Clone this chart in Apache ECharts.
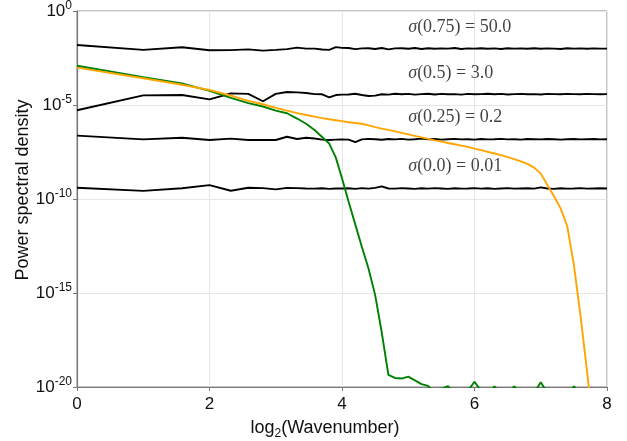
<!DOCTYPE html>
<html>
<head>
<meta charset="utf-8">
<script src="https://cdn.jsdelivr.net/npm/echarts@6/dist/echarts.min.js"></script>
<style>
  html, body { margin: 0; padding: 0; background: #fff; }
  #chart { width: 627px; height: 441px; }
</style>
</head>
<body>
<div id="chart"></div>
<script>
// x values: log2(wavenumber)
const log2k = [0, 1, 1.585, 2, 2.322, 2.585, 2.807, 3, 3.17, 3.322, 3.459, 3.585, 3.7, 3.807, 3.907, 4,
  4.1, 4.2, 4.3, 4.4, 4.5, 4.6, 4.7, 4.8, 4.9, 5.0,
  5.1, 5.2, 5.3, 5.4, 5.5, 5.6, 5.7, 5.8, 5.9, 6.0,
  6.1, 6.2, 6.3, 6.4, 6.5, 6.6, 6.7, 6.8, 6.9, 7.0,
  7.1, 7.2, 7.3, 7.4, 7.5, 7.6, 7.7, 7.8, 7.9, 8.0];

// spectra, stored as log10(power)
const sigma075 = [-1.81, -2.07, -1.93, -2.09, -2.08, -2.04, -2.11, -2.07, -2.03, -1.95, -2.00, -2.00, -2.05, -2.07, -1.92, -1.96,
  -1.97, -2.03, -1.99, -1.98, -2.02, -1.97, -2.04, -1.99, -1.98, -2.01,
  -1.97, -2.02, -1.98, -2.01, -1.99, -2.00, -1.97, -2.02, -1.99, -2.00,
  -1.98, -2.01, -1.99, -2.02, -1.98, -2.00, -1.99, -2.01, -1.98, -2.01,
  -1.99, -2.00, -2.02, -1.98, -2.00, -1.99, -2.01, -1.99, -2.00, -2.00];
const sigma05 = [-5.28, -4.49, -4.47, -4.70, -4.38, -4.41, -4.80, -4.41, -4.31, -4.33, -4.36, -4.42, -4.43, -4.59, -4.47, -4.45,
  -4.44, -4.40, -4.47, -4.52, -4.50, -4.43, -4.45, -4.40, -4.43, -4.41,
  -4.45, -4.42, -4.40, -4.44, -4.41, -4.43, -4.42, -4.45, -4.41, -4.43,
  -4.42, -4.40, -4.43, -4.41, -4.44, -4.42, -4.41, -4.43, -4.42, -4.44,
  -4.41, -4.42, -4.43, -4.41, -4.42, -4.43, -4.41, -4.42, -4.43, -4.42];
const sigma025 = [-6.63, -6.83, -6.74, -6.86, -6.79, -6.86, -6.86, -6.86, -6.69, -6.81, -6.74, -6.78, -6.84, -6.86, -6.84, -6.83,
  -6.84, -6.98, -6.83, -6.80, -6.82, -6.85, -6.81, -6.83, -6.80, -6.84,
  -6.82, -6.79, -6.83, -6.81, -6.84, -6.82, -6.80, -6.83, -6.82, -6.84,
  -6.81, -6.83, -6.82, -6.80, -6.83, -6.82, -6.84, -6.81, -6.82, -6.83,
  -6.81, -6.82, -6.84, -6.82, -6.81, -6.83, -6.82, -6.81, -6.83, -6.82];
const sigma00 = [-9.40, -9.57, -9.43, -9.26, -9.56, -9.40, -9.42, -9.49, -9.41, -9.42, -9.44, -9.45, -9.43, -9.46, -9.44, -9.44,
  -9.43, -9.46, -9.42, -9.45, -9.41, -9.33, -9.44, -9.45, -9.42, -9.44,
  -9.46, -9.43, -9.45, -9.42, -9.44, -9.46, -9.43, -9.45, -9.44, -9.42,
  -9.45, -9.43, -9.46, -9.44, -9.42, -9.45, -9.44, -9.43, -9.45, -9.38,
  -9.44, -9.46, -9.43, -9.45, -9.44, -9.42, -9.45, -9.44, -9.43, -9.44];
const greenSpec = [-2.91, -3.52, -3.85, -4.25, -4.62, -4.90, -5.08, -5.30, -5.44, -5.72, -6.00, -6.33, -6.70, -7.05, -7.80, -8.90,
  -10.15, -11.35, -12.55, -13.7, -15.1, -17.1, -19.35, -19.52, -19.55, -19.45,
  -19.65, -19.85, -19.94, -20.3, -20.1, -19.95, -20.4, -20.3, -20.2, -19.72,
  -20.2, -20.4, -19.97, -20.3, -20.4, -19.97, -20.3, -20.5, -20.3, -19.75,
  -20.3, -20.4, -20.3, -20.5, -19.96, -20.4, -20.5, -20.3, -20.4, -20.4];
const orangeSpec = [-3.01, -3.58, -3.92, -4.20, -4.50, -4.78, -4.96, -5.15, -5.30, -5.43, -5.53, -5.62, -5.70, -5.76, -5.81, -5.86,
  -5.92, -5.96, -6.00, -6.08, -6.18, -6.26, -6.32, -6.40, -6.48, -6.56,
  -6.64, -6.72, -6.80, -6.88, -6.95, -7.02, -7.09, -7.16, -7.23, -7.32,
  -7.40, -7.49, -7.58, -7.67, -7.77, -7.88, -8.00, -8.13, -8.33, -8.65,
  -9.25, -9.85, -10.5, -11.45, -13.5, -16.2, -19.2, -22.5, -25.0, -27.0];

// text annotations: [x, log10 y, sigma arg, value]
const annotations = [
  [5.0, -0.85, '0.75', '50.0'],
  [5.0, -3.30, '0.5', '3.0'],
  [5.0, -5.66, '0.25', '0.2'],
  [5.0, -8.27, '0.0', '0.01']
];

const toData = vals => log2k.map((x, i) => [x, Math.pow(10, vals[i])]);

const blackLine = (name, vals) => ({
  name: name,
  type: 'line',
  data: toData(vals),
  symbol: 'none',
  lineStyle: { color: '#000', width: 1.9 },
  z: 2
});

const chart = echarts.init(document.getElementById('chart'), null, { renderer: 'canvas' });

chart.setOption({
  animation: false,
  grid: {
    left: 77, right: 20, top: 11, bottom: 54,
    outerBoundsMode: 'none',
    show: true, borderColor: '#888', borderWidth: 1
  },
  xAxis: {
    type: 'value',
    min: 0, max: 8, interval: 2,
    name: 'log{sub|2}(Wavenumber)',
    nameLocation: 'middle',
    nameGap: 30,
    nameMoveOverlap: false,
    nameTextStyle: {
      fontFamily: 'Liberation Sans', fontSize: 18, color: '#111',
      padding: [0, 34, 0, 0],
      rich: { sub: { fontSize: 12, verticalAlign: 'bottom', padding: [11, 0, 0, 0], fontFamily: 'Liberation Sans', color: '#111' } }
    },
    axisLine: { lineStyle: { color: '#777', width: 1.2 } },
    axisTick: { length: 4, lineStyle: { color: '#777' } },
    axisLabel: { fontFamily: 'Liberation Sans', fontSize: 17, color: '#111', margin: 9 },
    splitLine: { show: true, lineStyle: { color: '#e6e6e6', width: 1 } }
  },
  yAxis: {
    type: 'log',
    logBase: 10,
    min: 1e-20, max: 1, interval: 5,
    name: 'Power spectral density',
    nameLocation: 'middle',
    nameGap: 45,
    nameMoveOverlap: false,
    nameTextStyle: { fontFamily: 'Liberation Sans', fontSize: 18, color: '#111', padding: [0, 0, 0, 18] },
    axisLine: { show: true, lineStyle: { color: '#777', width: 1.2 } },
    axisTick: { show: true, length: 4, lineStyle: { color: '#777' } },
    axisLabel: {
      fontFamily: 'Liberation Sans', fontSize: 17, color: '#111', margin: 5,
      formatter: v => '10{sup|' + Math.round(Math.log10(v)) + '}',
      rich: { sup: { fontSize: 12, verticalAlign: 'top', padding: [0, 0, 10, 0], fontFamily: 'Liberation Sans', color: '#111' } }
    },
    splitLine: { show: true, lineStyle: { color: '#e6e6e6', width: 1 } }
  },
  series: [
    blackLine('sigma 0.75', sigma075),
    blackLine('sigma 0.5', sigma05),
    blackLine('sigma 0.25', sigma025),
    blackLine('sigma 0.0', sigma00),
    {
      name: 'green', type: 'line', data: toData(greenSpec), symbol: 'none',
      lineStyle: { color: '#008000', width: 1.9 }, z: 3
    },
    {
      name: 'orange', type: 'line', data: toData(orangeSpec), symbol: 'none',
      lineStyle: { color: '#FFA500', width: 1.9 }, z: 3
    },
    {
      name: 'labels', type: 'scatter', symbolSize: 0, z: 5,
      data: annotations.map(a => ({ value: [a[0], Math.pow(10, a[1])], arg: a[2], val: a[3] })),
      label: {
        show: true, position: 'right', distance: 0,
        fontFamily: 'Liberation Serif', fontSize: 18, color: '#111',
        formatter: p => '{i|σ}(' + p.data.arg + ') = ' + p.data.val,
        rich: { i: { fontFamily: 'Liberation Serif', fontStyle: 'italic', fontSize: 18, color: '#111' } }
      }
    }
  ]
});
</script>
</body>
</html>
